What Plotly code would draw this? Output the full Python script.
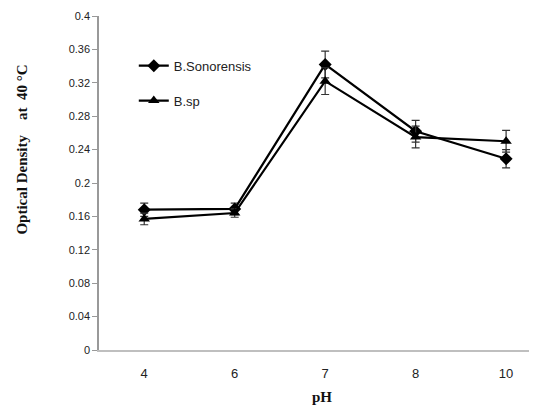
import plotly.graph_objects as go

ph_labels = ["4", "6", "7", "8", "10"]
sonorensis = [0.168, 0.169, 0.342, 0.262, 0.229]
sonorensis_err = [0.008, 0.007, 0.016, 0.013, 0.011]
bsp = [0.157, 0.164, 0.322, 0.255, 0.250]
bsp_err = [0.007, 0.005, 0.016, 0.013, 0.013]
y_ticks = [0, 0.04, 0.08, 0.12, 0.16, 0.2, 0.24, 0.28, 0.32, 0.36, 0.4]
y_tick_text = ["0", "0.04", "0.08", "0.12", "0.16", "0.2", "0.24", "0.28", "0.32", "0.36", "0.4"]

fig = go.Figure()
fig.add_trace(go.Scatter(
    x=ph_labels, y=sonorensis, name="B.Sonorensis", mode="lines+markers",
    legendgroup="a",
    line=dict(color="black", width=2.2),
    marker=dict(symbol="diamond", size=10, color="black"),
    error_y=dict(type="data", array=sonorensis_err, visible=True, color="#333333", thickness=1.2, width=4),
))
fig.add_trace(go.Scatter(
    x=ph_labels, y=bsp, name="B.sp", mode="lines+markers",
    legendgroup="b",
    line=dict(color="black", width=2.2),
    marker=dict(symbol="triangle-up", size=10, color="black"),
    error_y=dict(type="data", array=bsp_err, visible=True, color="#333333", thickness=1.2, width=4),
))

serif = "Liberation Serif, Times New Roman, serif"
fig.update_layout(
    width=537, height=407,
    margin=dict(l=91, r=0, t=8, b=65),
    paper_bgcolor="white", plot_bgcolor="white",
    font=dict(family="Liberation Sans, Arial, sans-serif", color="#222222"),
    showlegend=True,
    legend=dict(x=0.078, y=0.896, xanchor="left", yanchor="top",
                bgcolor="rgba(0,0,0,0)", font=dict(size=13, color="#222222"),
                tracegroupgap=15, itemwidth=30),
    xaxis=dict(
        type="category", range=[-0.5, 4.43],
        showline=True, linecolor="#BFBFBF", linewidth=1.5,
        ticks="", showgrid=False, zeroline=False,
        ticklabelstandoff=11,
        tickfont=dict(size=13, color="#222222"),
    ),
    yaxis=dict(
        range=[0, 0.4], tickvals=y_ticks, ticktext=y_tick_text,
        showline=True, linecolor="#999999", linewidth=1.5,
        ticks="outside", ticklen=5, tickcolor="#999999",
        showgrid=False, zeroline=False,
        tickfont=dict(size=11, color="#222222"),
    ),
    annotations=[
        dict(text="<b>Optical Density    at  40 °C</b>", xref="paper", yref="paper",
             x=0, y=0.60, xshift=-77, xanchor="center", yanchor="middle",
             textangle=-90, showarrow=False,
             font=dict(family=serif, size=15, color="#111111")),
        dict(text="<b>pH</b>", xref="paper", yref="paper",
             x=0.5, y=0, yshift=-47, xanchor="center", yanchor="middle",
             showarrow=False,
             font=dict(family=serif, size=15, color="#111111")),
    ],
)

fig.write_html("out.html")
